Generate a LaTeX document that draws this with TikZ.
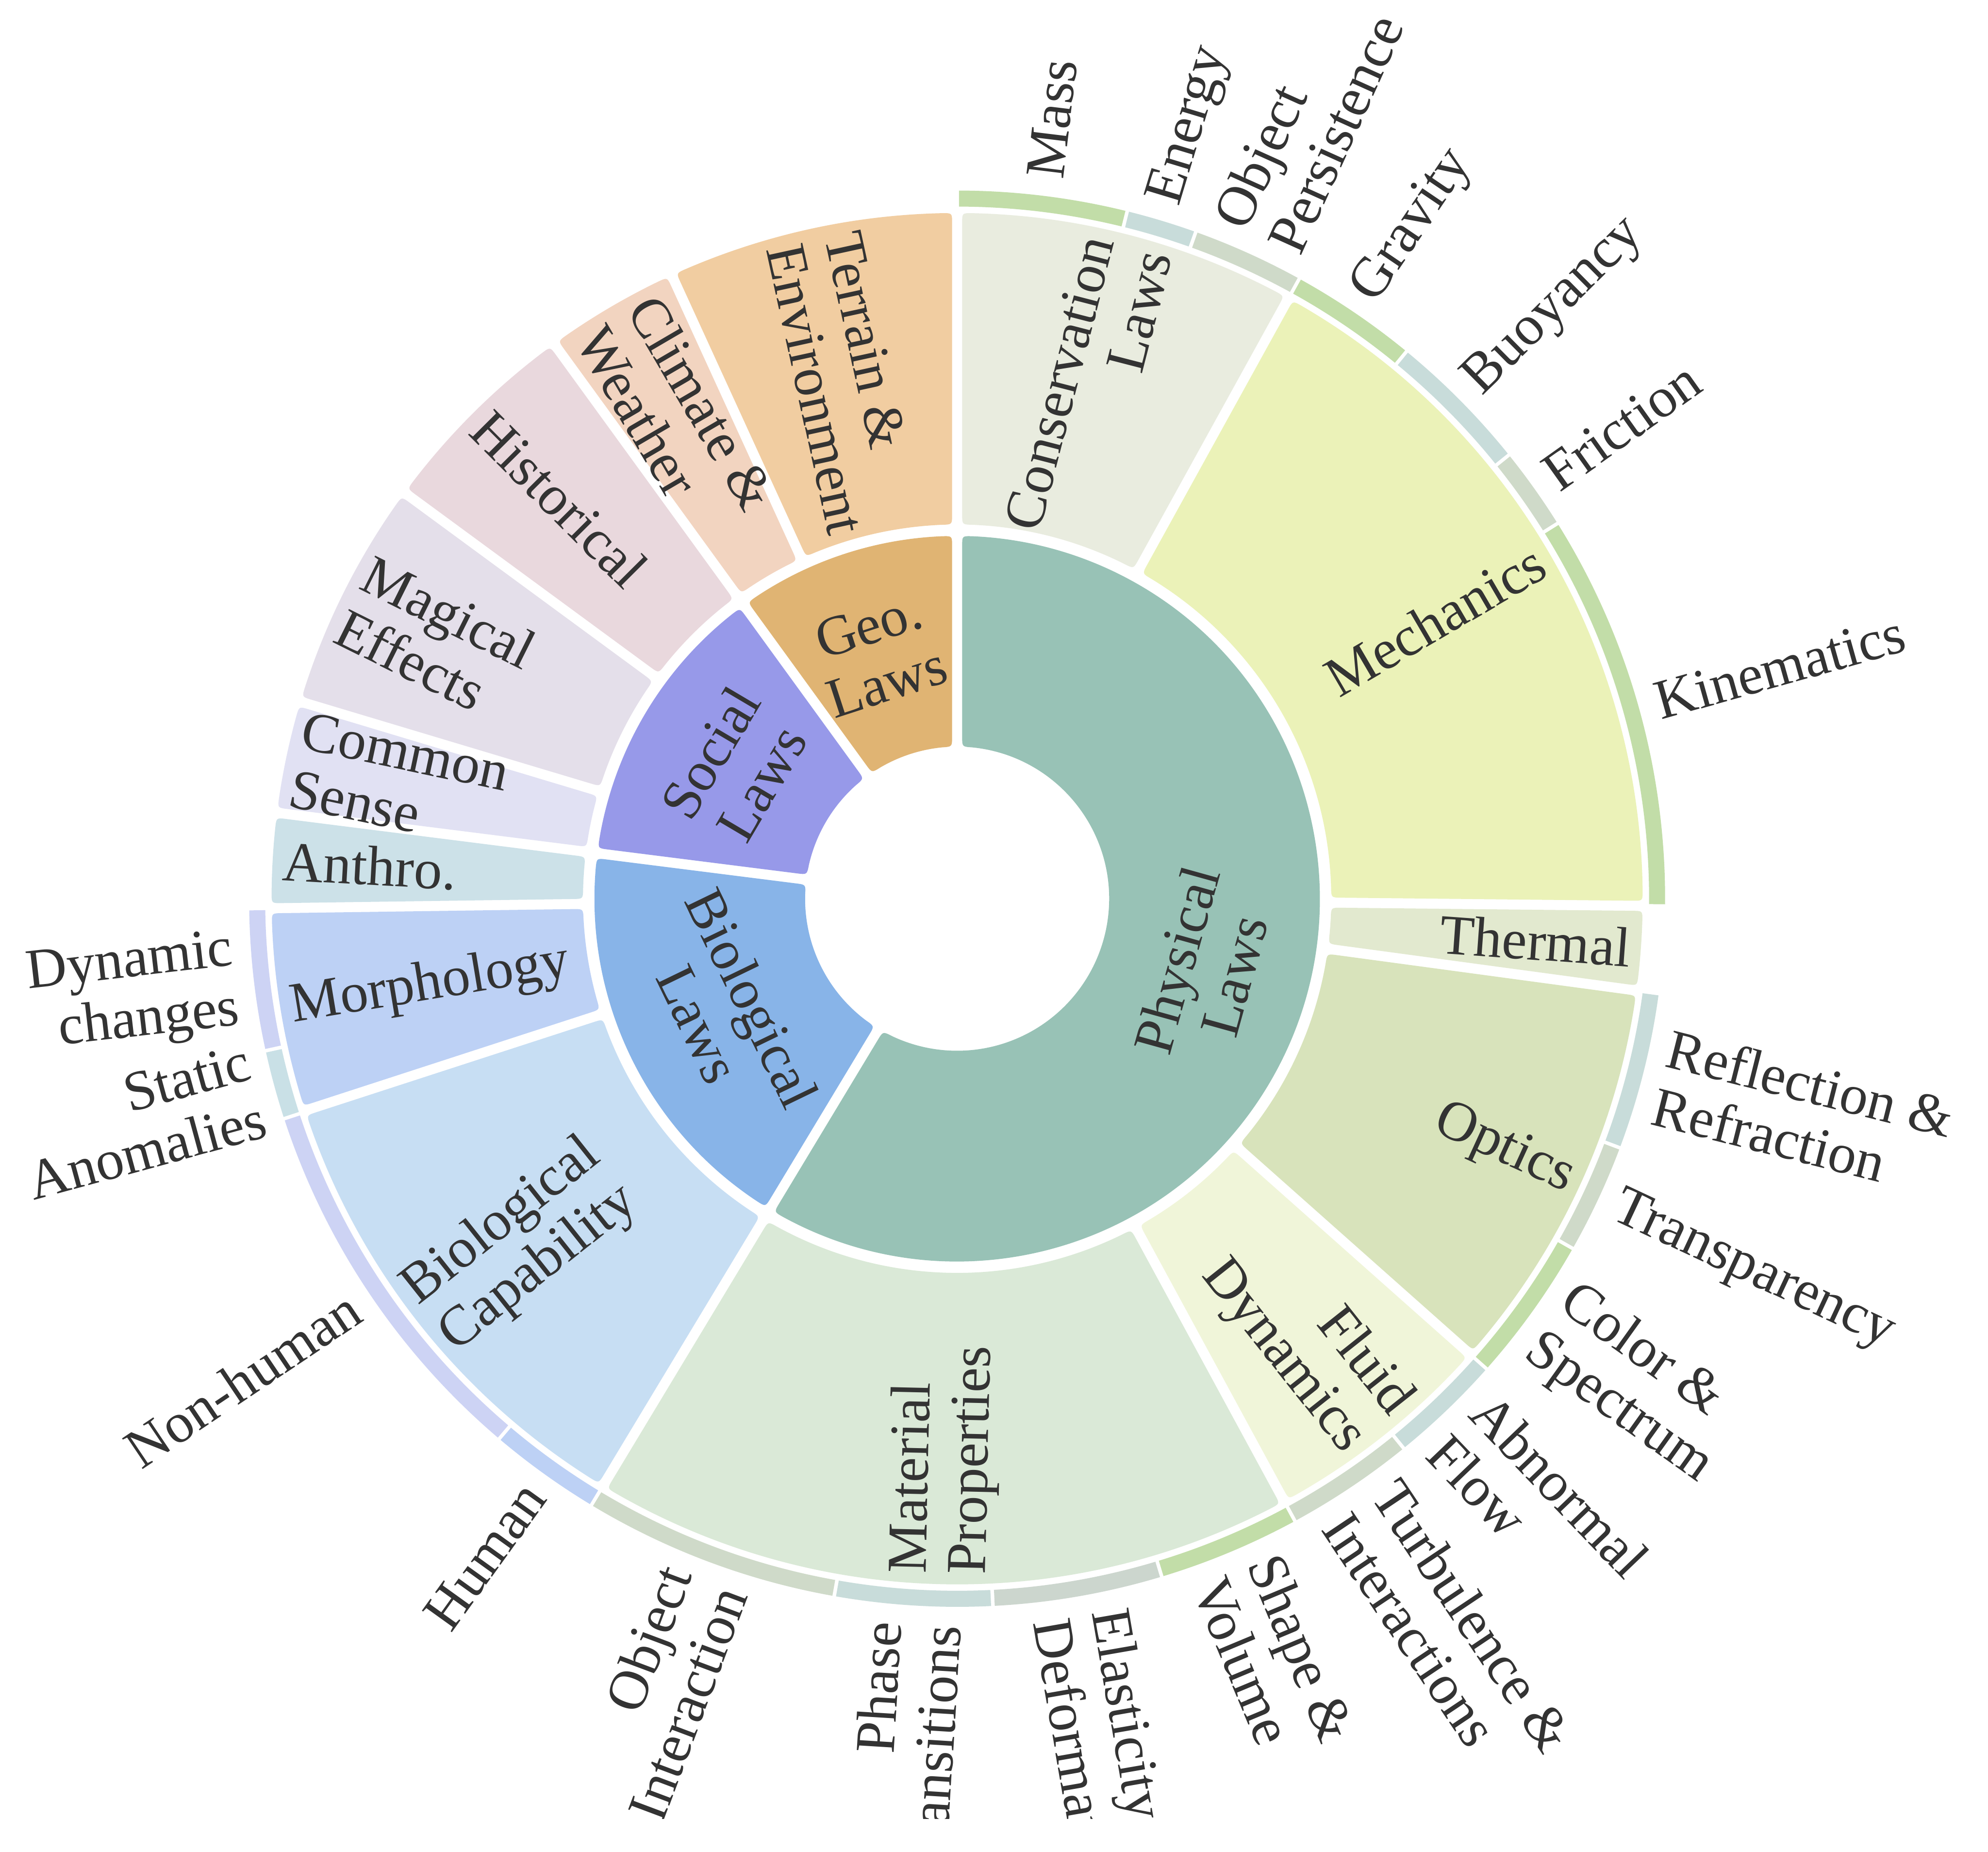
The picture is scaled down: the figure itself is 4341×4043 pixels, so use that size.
\documentclass[tikz,border=0pt]{standalone}
\usepackage{fontspec}
\setmainfont{Liberation Serif}
\usetikzlibrary{calc}
\definecolor{tc}{HTML}{333333}
\definecolor{cPhys}{HTML}{98C2B6}
\definecolor{cBio}{HTML}{88B4E8}
\definecolor{cSoc}{HTML}{9799E9}
\definecolor{cGeo}{HTML}{E0B473}
\definecolor{cCons}{HTML}{E9ECDF}
\definecolor{cMech}{HTML}{EBF2B8}
\definecolor{cTherm}{HTML}{E2E9CF}
\definecolor{cOpt}{HTML}{D8E3BB}
\definecolor{cFluid}{HTML}{F0F5D9}
\definecolor{cMat}{HTML}{DAE9D7}
\definecolor{cBioCap}{HTML}{C7DEF3}
\definecolor{cMorph}{HTML}{BDD1F5}
\definecolor{cAnth}{HTML}{CCE1E8}
\definecolor{cCommon}{HTML}{E1E1F3}
\definecolor{cMagic}{HTML}{E4DFEA}
\definecolor{cHist}{HTML}{E9D8DD}
\definecolor{cClim}{HTML}{F2D4C0}
\definecolor{cTerr}{HTML}{F1CDA1}
\definecolor{bG}{HTML}{C2DDA8}
\definecolor{bB}{HTML}{C8DCDA}
\definecolor{bY}{HTML}{CFDAC9}
\definecolor{bY2}{HTML}{CCD6CE}
\definecolor{bHum}{HTML}{BDD1F5}
\definecolor{bNon}{HTML}{CDD3F4}
\definecolor{bStat}{HTML}{C9E0E6}

\newcommand\gapd{11}
\newcommand\crad{22}

% rounded annular sector: #1 start, #2 end (deg clockwise from top), #3 inner r, #4 outer r, #5 colour
\newcommand\sect[5]{%
  \pgfmathsetmacro\Aone{90-(#1)}%
  \pgfmathsetmacro\Atwo{90-(#2)}%
  \pgfmathsetmacro\dri{\gapd/(#3)*57.2958}%
  \pgfmathsetmacro\dro{\gapd/(#4)*57.2958}%
  \pgfmathsetmacro\driR{\gapd/((#3)+\crad)*57.2958}%
  \pgfmathsetmacro\droR{\gapd/((#4)-\crad)*57.2958}%
  \pgfmathsetmacro\cri{\crad/(#3)*57.2958}%
  \pgfmathsetmacro\cro{\crad/(#4)*57.2958}%
  \pgfmathsetmacro\sOA{\Atwo+\dro+\cro}%
  \pgfmathsetmacro\eOA{\Aone-\dro-\cro}%
  \pgfmathsetmacro\sIA{\Aone-\dri-\cri}%
  \pgfmathsetmacro\eIA{\Atwo+\dri+\cri}%
  \fill[#5] (\Atwo+\driR:#3+\crad) -- (\Atwo+\droR:#4-\crad)
    .. controls (\Atwo+\dro:#4) .. (\sOA:#4)
    arc[start angle=\sOA, end angle=\eOA, radius=#4]
    .. controls (\Aone-\dro:#4) .. (\Aone-\droR:#4-\crad)
    -- (\Aone-\driR:#3+\crad)
    .. controls (\Aone-\dri:#3) .. (\sIA:#3)
    arc[start angle=\sIA, end angle=\eIA, radius=#3]
    .. controls (\Atwo+\dri:#3) .. (\Atwo+\driR:#3+\crad) -- cycle;
}

% thin outer band segment
\newcommand\band[3]{%
  \pgfmathsetmacro\Aone{90-(#1)}%
  \pgfmathsetmacro\Atwo{90-(#2)}%
  \pgfmathsetmacro\bi{4/1511*57.2958}%
  \pgfmathsetmacro\bo{4/1546*57.2958}%
  \pgfmathsetmacro\sB{\Atwo+\bo}%
  \pgfmathsetmacro\eB{\Aone-\bo}%
  \pgfmathsetmacro\sC{\Aone-\bi}%
  \pgfmathsetmacro\eC{\Atwo+\bi}%
  \fill[#3] (\eC:1511) -- (\sB:1546) arc[start angle=\sB, end angle=\eB, radius=1546]
    -- (\sC:1511) arc[start angle=\sC, end angle=\eC, radius=1511] -- cycle;
}

\tikzset{lab/.style={font=\fontsize{35}{37}\selectfont, text=tc, inner sep=0pt}}

% outer labels
\newcommand\olab[3]{%
  \pgfmathsetmacro\tang{90-(#2)}%
  \ifdim #2pt<180pt
    \node[lab, anchor=west, align=left, rotate=\tang] (#1) at (\tang:1585) {#3};%
  \else
    \pgfmathsetmacro\rotb{270-(#2)}%
    \node[lab, anchor=east, align=right, rotate=\rotb] (#1) at (\tang:1585) {#3};%
  \fi}
% middle ring labels
\newcommand\mlab[3]{%
  \pgfmathsetmacro\tang{90-(#2)}%
  \ifdim #2pt<180pt
    \node[lab, anchor=east, align=right, rotate=\tang] (#1) at (\tang:1475) {#3};%
  \else
    \pgfmathsetmacro\rotb{270-(#2)}%
    \node[lab, anchor=west, align=left, rotate=\rotb] (#1) at (\tang:1475) {#3};%
  \fi}
% inner ring labels
\newcommand\ilab[4]{%
  \node[lab, align=center, rotate=#3] (#1) at (90-#2:562) {#4};}

\begin{document}
\begin{tikzpicture}[x=0.01cm, y=0.01cm]
\useasboundingbox (-2090,-2081) rectangle (2251,1962);
\fill[white] (-2090,-2081) rectangle (2251,1962);
\begin{scope}
\clip (-2090,-2009) rectangle (2251,1962);

% inner ring
\sect{0}{211.1}{332}{792}{cPhys}
\sect{211.1}{277.2}{332}{792}{cBio}
\sect{277.2}{324}{332}{792}{cSoc}
\sect{324}{360}{332}{792}{cGeo}

% middle ring
\sect{0}{28.9}{817}{1497}{cCons}
\sect{28.9}{90.6}{817}{1497}{cMech}
\sect{90.6}{97.7}{817}{1497}{cTherm}
\sect{97.7}{131.6}{817}{1497}{cOpt}
\sect{131.6}{151.5}{817}{1497}{cFluid}
\sect{151.5}{211.1}{817}{1497}{cMat}
\sect{211.1}{252.0}{817}{1497}{cBioCap}
\sect{252.0}{269.2}{817}{1497}{cMorph}
\sect{269.2}{277.2}{817}{1497}{cAnth}
\sect{277.2}{286.7}{817}{1497}{cCommon}
\sect{286.7}{306.3}{817}{1497}{cMagic}
\sect{306.3}{324.0}{817}{1497}{cHist}
\sect{324.0}{335.4}{817}{1497}{cClim}
\sect{335.4}{360}{817}{1497}{cTerr}

% outer band
\band{0}{13.9}{bG}
\band{13.9}{19.7}{bB}
\band{19.7}{28.9}{bY}
\band{28.9}{39.4}{bG}
\band{39.4}{51.2}{bB}
\band{51.2}{58.0}{bY}
\band{58.0}{90.6}{bG}
\band{97.7}{110.6}{bB}
\band{110.6}{119.6}{bY}
\band{119.6}{131.6}{bG}
\band{131.6}{140.9}{bB}
\band{140.9}{151.5}{bY}
\band{151.5}{163.2}{bG}
\band{163.2}{177.1}{bY2}
\band{177.1}{190.0}{bB}
\band{190.0}{211.1}{bY}
\band{211.1}{220.3}{bHum}
\band{220.3}{251.9}{bNon}
\band{251.9}{257.6}{bStat}
\band{257.6}{269.2}{bNon}

% inner labels
\ilab{lPhys}{105.55}{74.45}{Physical\\Laws}
\ilab{lBio}{244.15}{-64.15}{Biological\\Laws}
\ilab{lSoc}{300.6}{59.4}{Social\\Laws}
\ilab{lGeo}{342}{18}{Geo.\\Laws}

% middle labels
\mlab{lCons}{14.45}{Conservation\\Laws}
\mlab{lMech}{59.75}{Mechanics}
\mlab{lTherm}{94.15}{Thermal}
\mlab{lOpt}{114.65}{Optics}
\mlab{lFluid}{141.55}{Fluid\\Dynamics}
\mlab{lMat}{181.3}{Material\\Properties}
\mlab{lBioCap}{231.55}{Biological\\Capability}
\mlab{lMorph}{260.6}{Morphology}
\mlab{lAnth}{273.2}{Anthro.}
\mlab{lCommon}{281.95}{Common\\Sense}
\mlab{lMagic}{296.5}{Magical\\Effects}
\mlab{lHist}{315.15}{Historical}
\mlab{lClim}{329.7}{Climate \&\\Weather}
\mlab{lTerr}{347.7}{Terrain \&\\Environment}

% outer labels
\olab{oMass}{6.95}{Mass}
\olab{oEnergy}{16.8}{Energy}
\olab{oPers}{24.3}{Object\\Persistence}
\olab{oGrav}{34.15}{Gravity}
\olab{oBuoy}{45.3}{Buoyancy}
\olab{oFric}{54.6}{Friction}
\olab{oKin}{74.3}{Kinematics}
\olab{oRefl}{104.15}{Reflection \&\\Refraction}
\olab{oTransp}{115.1}{Transparency}
\olab{oColor}{125.6}{Color \&\\Spectrum}
\olab{oAbn}{136.25}{Abnormal\\Flow}
\olab{oTurb}{146.2}{Turbulence \&\\Interactions}
\olab{oShape}{157.35}{Shape \&\\Volume}
\olab{oElast}{170.15}{Elasticity\\Deformation}
\olab{oPhase}{183.55}{Phase\\Transitions}
\olab{oObjInt}{200.55}{Object\\Interaction}
\olab{oHuman}{215.7}{Human}
\olab{oNon}{236.1}{Non-human}
\olab{oStatic}{254.75}{Static\\Anomalies}
\olab{oDyn}{263.4}{Dynamic\\changes}
\end{scope}
\end{tikzpicture}
\end{document}
